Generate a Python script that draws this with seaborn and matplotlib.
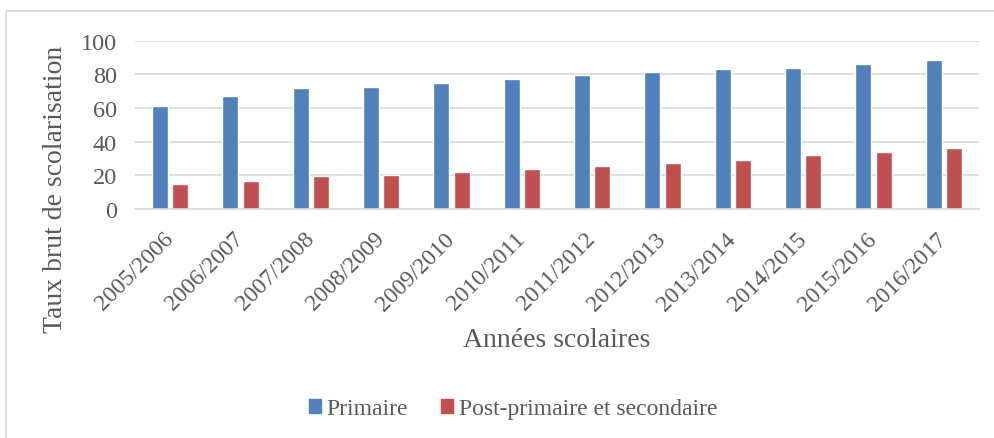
import matplotlib

matplotlib.use("Agg")
import matplotlib.pyplot as plt
import matplotlib.patches as mpatches
import pandas as pd
import seaborn as sns

# ================================================================
# Data
# ================================================================
annees = [
    "2005/2006", "2006/2007", "2007/2008", "2008/2009", "2009/2010", "2010/2011",
    "2011/2012", "2012/2013", "2013/2014", "2014/2015", "2015/2016", "2016/2017",
]
primaire = [61.4, 67.0, 71.9, 72.5, 74.9, 77.5, 79.5, 81.3, 83.1, 83.7, 86.1, 88.7]
secondaire = [15.1, 16.9, 19.6, 20.2, 22.2, 23.5, 25.4, 27.4, 29.2, 32.2, 33.8, 36.0]
series = ["Primaire", "Post-primaire et secondaire"]
couleurs = ["#4F81BD", "#C0504D"]
y_ticks = [0, 20, 40, 60, 80, 100]

df = pd.DataFrame({"Annee": annees, series[0]: primaire, series[1]: secondaire})
df = df.melt(id_vars="Annee", var_name="Serie", value_name="Taux")

# ================================================================
# Style
# ================================================================
sns.set_style("white")
plt.rcParams["font.family"] = ["Liberation Serif", "DejaVu Serif"]
gris = "#595959"

fig = plt.figure(figsize=(9.94, 4.39), dpi=100)
ax = fig.add_axes([135 / 994, 1 - 210 / 439, 844 / 994, 168.3 / 439])

sns.barplot(
    data=df, x="Annee", y="Taux", hue="Serie", hue_order=series,
    palette=couleurs, width=0.57, gap=0.2, saturation=1, ax=ax, legend=True,
)

ax.set_ylim(0, 100)
ax.set_yticks(y_ticks)
ax.set_xlim(-0.5, len(annees) - 0.5)
ax.yaxis.grid(True, color="#D9D9D9", linewidth=1.2)
ax.set_axisbelow(True)
for s in ["top", "right", "left"]:
    ax.spines[s].set_visible(False)
ax.spines["bottom"].set_color("#D9D9D9")
ax.spines["bottom"].set_linewidth(1.2)

ax.tick_params(axis="y", length=0, pad=13, labelsize=17.5, labelcolor=gris)
ax.tick_params(axis="x", length=0, pad=19, labelsize=17, labelcolor=gris)
for lab in ax.get_xticklabels():
    lab.set_rotation(45)
    lab.set_ha("right")
    lab.set_va("center")
    lab.set_rotation_mode("anchor")

ax.set_xlabel("")
ax.set_ylabel("")
fig.text(56 / 994, 1 - 189 / 439, "Taux brut de scolarisation", rotation=90,
         ha="center", va="center", fontsize=20, color=gris)
fig.text(557 / 994, 1 - 341 / 439, "Années scolaires",
         ha="center", va="center", fontsize=20, color=gris)

# legend
ax.get_legend().remove()
handles = [mpatches.Patch(color=c, label=s) for c, s in zip(couleurs, series)]
leg = fig.legend(
    handles=handles, loc="center", bbox_to_anchor=(513 / 994, 1 - 410 / 439),
    ncol=2, frameon=False, fontsize=17, handlelength=0.5, handleheight=0.5,
    handletextpad=0.25, columnspacing=1.4,
)
for t in leg.get_texts():
    t.set_color(gris)

# chart frame
fig.patches.append(mpatches.Rectangle(
    (6 / 994, -0.1), 1.1, 1.1 - 12 / 439, transform=fig.transFigure,
    fill=False, edgecolor="#D9D9D9", linewidth=1.2,
))

fig.savefig("out.png", dpi=100)
plt.close(fig)
